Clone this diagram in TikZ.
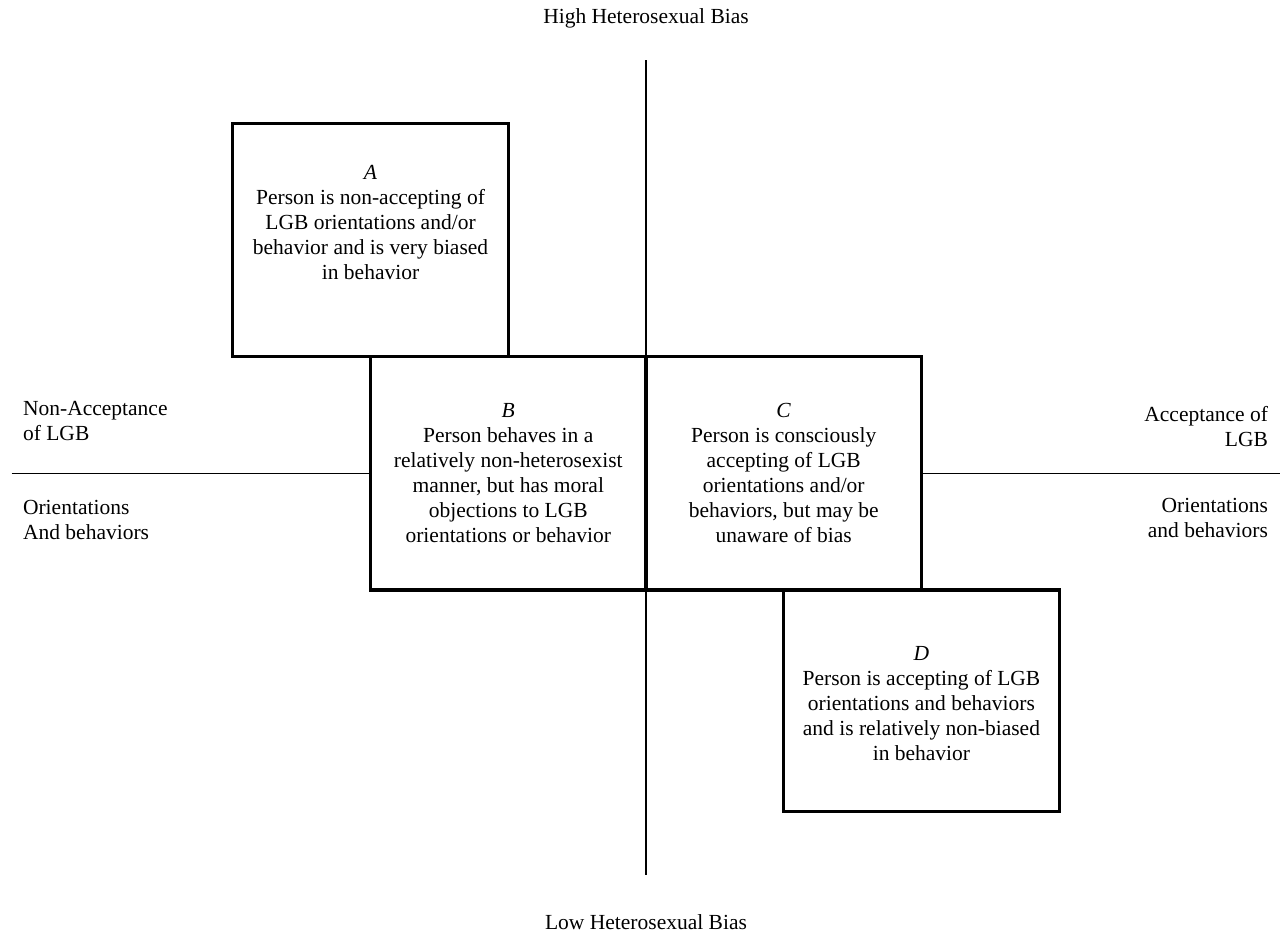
\documentclass[tikz,border=0pt]{standalone}
\usepackage{fontspec}
\setmainfont{Liberation Serif}
\usetikzlibrary{positioning}

\tikzset{
  quad/.style={rectangle, draw=black, line width=1.8pt, fill=white,
               inner sep=0pt, outer sep=0pt,
               minimum width=153.7pt, minimum height=130.2pt},
  blurb/.style={align=center, inner sep=0pt},
  sidenote/.style={inner sep=0pt},
  axis/.style={line width=0.75pt}
}

\begin{document}
\begin{tikzpicture}[x=0.558pt, y=-0.558pt, font=\fontsize{12}{13.95}\selectfont]
  \useasboundingbox (0,0) rectangle (1285,938);

  % axes
  \coordinate (O) at (646,473.3);
  \coordinate (top) at (646,60);
  \coordinate (bot) at (646,875);
  \coordinate (lft) at (11.7,473.3);
  \coordinate (rgt) at (1280,473.3);
  \draw[axis] (top) -- (bot);
  \draw[axis] (lft) -- (rgt);

  % quadrant boxes
  \node[quad, anchor=east] (B) at (O) {};
  \node[quad, anchor=west] (C) at (O) {};
  \node[quad, anchor=south east] (A) at (B.north) {};
  \node[quad, anchor=north west, minimum height=123.7pt] (D) at (C.south) {};

  \node[blurb] (A-text) at ([yshift=9.5pt]A.center) {\textit{A}\\
    Person is non-accepting of\\LGB orientations and/or\\
    behavior and is very biased\\in behavior};
  \node[blurb] (B-text) at (B) {\textit{B}\\
    Person behaves in a\\relatively non-heterosexist\\
    manner, but has moral\\objections to LGB\\orientations or behavior};
  \node[blurb] (C-text) at (C) {\textit{C}\\
    Person is consciously\\accepting of LGB\\orientations and/or\\
    behaviors, but may be\\unaware of bias};
  \node[blurb] (D-text) at ([yshift=-1.7pt]D.center) {\textit{D}\\
    Person is accepting of LGB\\orientations and behaviors\\
    and is relatively non-biased\\in behavior};

  % axis labels
  \node[sidenote] (high) at (646,18.3) {High Heterosexual Bias};
  \node[sidenote] (low) at (646,922.6) {Low Heterosexual Bias};
  \node[sidenote, anchor=west, align=left] (nonacc) at (22.7,420.5) {Non-Acceptance\\of LGB};
  \node[sidenote, anchor=west, align=left] (orient-l) at (22.7,520) {Orientations\\And behaviors};
  \node[sidenote, anchor=east, align=right] (acc) at (1268.3,427) {Acceptance of\\LGB};
  \node[sidenote, anchor=east, align=right] (orient-r) at (1268.3,518) {Orientations\\and behaviors};
\end{tikzpicture}
\end{document}
